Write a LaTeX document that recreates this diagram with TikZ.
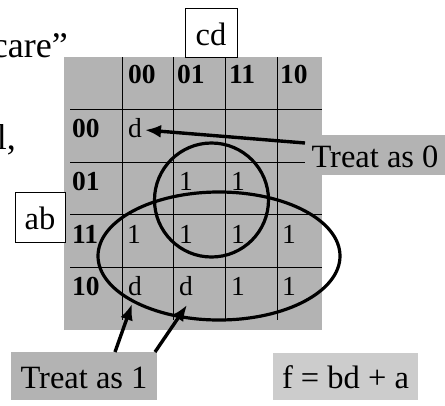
\documentclass[tikz,border=0pt]{standalone}
\usepackage{fontspec}
\setmainfont{Liberation Serif}
\usetikzlibrary{arrows.meta}
\definecolor{gridgray}{RGB}{179,179,179}
\definecolor{palegray}{RGB}{204,204,204}
\begin{document}
\begin{tikzpicture}[x=1pt,y=-1pt,
  lbl/.style={font=\fontsize{32.5}{38}\selectfont, inner sep=0pt, text depth=0pt},
  big/.style={font=\fontsize{36}{42}\selectfont, inner sep=0pt},
  wbox/.style={lbl, draw, line width=1pt, fill=white},
  gbox/.style={lbl, fill=gridgray},
  hd/.style={font=\fontsize{27.5}{32}\selectfont\bfseries, inner sep=0pt, anchor=base west},
  cell/.style={font=\fontsize{27.5}{32}\selectfont, inner sep=0pt, anchor=base west},
  loopline/.style={line width=3.2pt},
  arr/.style={line width=3.4pt, -{Latex[length=16pt,width=13pt]}},
  gl/.style={line width=1pt}]
\useasboundingbox (0,0) rectangle (445,405);
% clipped text at left
\node[big, anchor=base east] (care) at (68,57) {care”};
\node[big, anchor=base east] (comma) at (16,149) {l,};
% grid background
\fill[gridgray] (64,57) rectangle (322,330);
% grid lines
\foreach \x in {122,173,225,277} \draw[gl] (\x,57) -- (\x,320);
\foreach \y in {109,162,214,267} \draw[gl] (70,\y) -- (322,\y);
% header
\node[hd] (h1) at (128,83) {00};
\node[hd] (h2) at (177,83) {01};
\node[hd] (h3) at (229,83) {11};
\node[hd] (h4) at (280,83) {10};
\node[hd] (r1) at (72,137) {00};
\node[hd] (r2) at (72,190) {01};
\node[hd] (r3) at (72,243) {11};
\node[hd] (r4) at (72,295) {10};
% cells
\node[cell] (c11) at (128,137) {d};
\node[cell] (c22) at (179,190) {1};
\node[cell] (c23) at (231,190) {1};
\node[cell] (c31) at (127,243) {1};
\node[cell] (c32) at (179,243) {1};
\node[cell] (c33) at (231,243) {1};
\node[cell] (c34) at (282,243) {1};
\node[cell] (c41) at (128,295) {d};
\node[cell] (c42) at (179,295) {d};
\node[cell] (c43) at (231,295) {1};
\node[cell] (c44) at (282,295) {1};
% loops
\draw[loopline] (211.5,200) circle (57pt);
\draw[loopline] (219,256) ellipse [x radius=121pt, y radius=64pt];
% boxes
\node[wbox, minimum width=52pt, minimum height=49pt, text height=25pt] (cd) at (211,32.5) {cd};
\node[wbox, minimum width=50pt, minimum height=50pt, text height=24pt] (ab) at (40,217) {ab};
\node[gbox, minimum width=140pt, minimum height=40pt, text height=25pt] (t0) at (375,155) {Treat as 0};
\node[gbox, minimum width=146pt, minimum height=48pt, text height=24pt] (t1) at (84,376) {Treat as 1};
\node[lbl, fill=palegray, minimum width=145pt, minimum height=47pt, text height=23pt] (f) at (345.5,376.5) {f = bd + a};
% arrows
\coordinate (a0s) at (305,143);
\coordinate (a0e) at (145,130);
\coordinate (a1s) at (115,352);
\coordinate (a1e) at (132,304);
\coordinate (a2s) at (155,352);
\coordinate (a2e) at (187,305);
\draw[arr] (a0s) -- (a0e);
\draw[arr] (a1s) -- (a1e);
\draw[arr] (a2s) -- (a2e);
\end{tikzpicture}
\end{document}
